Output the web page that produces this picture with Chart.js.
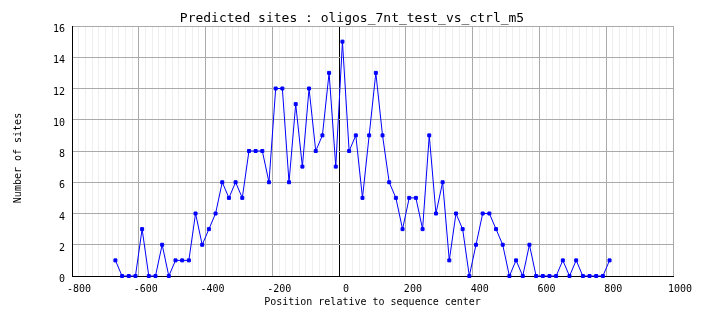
<!DOCTYPE html>
<html>
<head>
<meta charset="utf-8">
<script src="https://cdn.jsdelivr.net/npm/chart.js@4/dist/chart.umd.min.js"></script>
<style>
  html, body { margin: 0; padding: 0; background: #fff; }
  #wrap { width: 704px; height: 328px; }
</style>
</head>
<body>
<div id="wrap"><canvas id="chartCanvas" width="704" height="328"></canvas></div>
<script>
// Positions (bin centres, relative to sequence centre) and site counts
const positions = [
  -670, -650, -630, -610, -590, -570, -550, -530, -510, -490,
  -470, -450, -430, -410, -390, -370, -350, -330, -310, -290,
  -270, -250, -230, -210, -190, -170, -150, -130, -110, -90,
  -70, -50, -30, -10, 10, 30, 50, 70, 90, 110,
  130, 150, 170, 190, 210, 230, 250, 270, 290, 310,
  330, 350, 370, 390, 410, 430, 450, 470, 490, 510,
  530, 550, 570, 590, 610, 630, 650, 670, 690, 710,
  730, 750, 770, 790, 810
];
const siteCounts = [
  1, 0, 0, 0, 3, 0, 0, 2, 0, 1,
  1, 1, 4, 2, 3, 4, 6, 5, 6, 5,
  8, 8, 8, 6, 12, 12, 6, 11, 7, 12,
  8, 9, 13, 7, 15, 8, 9, 5, 9, 13,
  9, 6, 5, 3, 5, 5, 3, 9, 4, 6,
  1, 4, 3, 0, 2, 4, 4, 3, 2, 0,
  1, 0, 2, 0, 0, 0, 0, 1, 0, 1,
  0, 0, 0, 0, 1
];

// Axis ranges
const xMin = -800, xMax = 1000, xMajor = 200, xMinor = 20;
const yMin = 0, yMax = 16, yStep = 2;

const monoFont = "'DejaVu Sans Mono', 'Liberation Mono', monospace";

// Rotated y title, sitting a little below the middle of the plot
const yTitlePlugin = {
    id: 'yTitle',
    afterDraw(chart) {
        const ctx = chart.ctx;
        const area = chart.chartArea;
        ctx.save();
        ctx.translate(18, (area.top + area.bottom) / 2 + 7);
        ctx.rotate(-Math.PI / 2);
        ctx.font = '10px ' + monoFont;
        ctx.fillStyle = '#000';
        ctx.textAlign = 'center';
        ctx.textBaseline = 'middle';
        ctx.fillText('Number of sites', 0, 0);
        ctx.restore();
    }
};

const ctx = document.getElementById('chartCanvas').getContext('2d');
const myChart = new Chart(ctx, {
    type: 'line',
    data: {
        datasets: [{
            label: 'Predicted sites',
            data: positions.map((p, i) => ({ x: p, y: siteCounts[i] })),
            borderColor: '#0000ff',
            backgroundColor: '#0000ff',
            borderWidth: 1,
            pointStyle: 'rect',
            pointRadius: 2.1,
            pointHoverRadius: 2.1,
            tension: 0,
            clip: 4
        }]
    },
    options: {
        responsive: false,
        animation: false,
        // equal side padding keeps the title centred on the canvas
        layout: { padding: { left: 31, right: 31, top: 0, bottom: 0 } },
        plugins: {
            legend: { display: false },
            tooltip: { enabled: false },
            title: {
                display: true,
                text: 'Predicted sites : oligos_7nt_test_vs_ctrl_m5',
                color: '#000',
                font: { family: monoFont, size: 13, weight: 'normal' },
                padding: { top: 10.4, bottom: 0 }
            }
        },
        scales: {
            x: {
                type: 'linear',
                min: xMin,
                max: xMax,
                afterFit: (scale) => { scale.height = 52; },
                ticks: {
                    stepSize: xMinor,
                    autoSkip: false,
                    maxRotation: 0,
                    padding: 7,
                    labelOffset: 7,
                    color: '#000',
                    font: { family: monoFont, size: 10 },
                    callback: (v) => (v % xMajor === 0 ? String(v) : '')
                },
                grid: {
                    drawTicks: false,
                    lineWidth: 1,
                    color: (c) => {
                        const v = c.tick ? c.tick.value : null;
                        if (v === 0) return '#000';
                        return v % xMajor === 0 ? '#aaaaaa' : '#efefef';
                    }
                },
                border: { display: true, color: '#000', width: 1 },
                title: {
                    display: true,
                    text: 'Position relative to sequence center',
                    color: '#000',
                    font: { family: monoFont, size: 10 },
                    padding: { top: 0, bottom: 20 }
                }
            },
            y: {
                min: yMin,
                max: yMax,
                afterFit: (scale) => { scale.width = 41; },
                ticks: {
                    stepSize: yStep,
                    padding: 7,
                    labelOffset: 3.5,
                    color: '#000',
                    font: { family: monoFont, size: 10 }
                },
                grid: {
                    drawTicks: false,
                    color: '#aaaaaa',
                    lineWidth: 1
                },
                border: { display: true, color: '#000', width: 1 }
            }
        }
    },
    plugins: [yTitlePlugin]
});
</script>
</body>
</html>
